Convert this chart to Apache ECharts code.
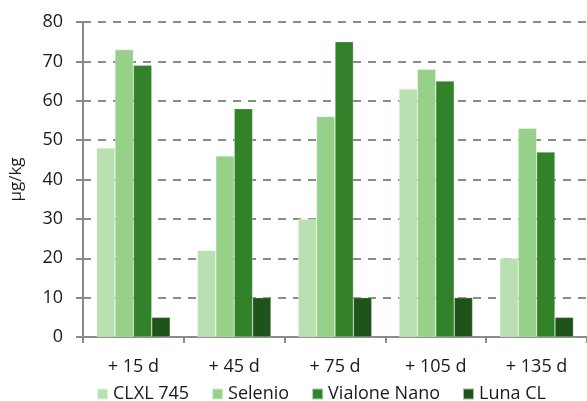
<!DOCTYPE html>
<html><head><meta charset="utf-8">
<script src="https://cdn.jsdelivr.net/npm/echarts@6/dist/echarts.min.js"></script>
<style>html,body{margin:0;padding:0;background:#fff}#c{width:587px;height:401px}</style>
</head><body><div id="c"></div>
<script>
const categories = ['+ 15 d', '+ 45 d', '+ 75 d', '+ 105 d', '+ 135 d'];
const seriesNames = ['CLXL 745', 'Selenio', 'Vialone Nano', 'Luna CL'];
const clxl745 = [48, 22, 30, 63, 20];
const selenio = [73, 46, 56, 68, 53];
const vialoneNano = [69, 58, 75, 65, 47];
const lunaCL = [5, 10, 10, 10, 5];
const yTicks = [0, 10, 20, 30, 40, 50, 60, 70, 80];
const colors = ['#b9e0b0', '#96d089', '#318229', '#1e5419'];
const values = [clxl745, selenio, vialoneNano, lunaCL];
const font = 'Open Sans';
const chart = echarts.init(document.getElementById('c'));
chart.setOption({
  animation: false,
  textStyle: { fontFamily: font },
  grid: { left: 80, right: -5.5, top: 22, bottom: 64, containLabel: false },
  legend: {
    bottom: -7, left: 91,
    itemWidth: 11, itemHeight: 11, itemGap: 22,
    icon: 'rect',
    textStyle: { fontSize: 18, color: '#1a1a1a', fontFamily: font, padding: [0, 0, 0, 0] },
    data: seriesNames
  },
  xAxis: {
    type: 'category', data: categories,
    axisLine: { lineStyle: { color: '#8a8a8a', width: 2 } },
    axisTick: { show: true, length: 6, lineStyle: { color: '#8a8a8a', width: 2 } },
    axisLabel: { fontSize: 18, color: '#1a1a1a', margin: 21, fontFamily: font }
  },
  yAxis: {
    type: 'value', min: yTicks[0], max: yTicks[yTicks.length - 1], interval: 10,
    name: 'µg/kg', nameLocation: 'middle', nameGap: 58, nameRotate: 90,
    nameTextStyle: { fontSize: 17, color: '#1a1a1a', fontFamily: font },
    axisLine: { show: true, lineStyle: { color: '#8a8a8a', width: 2 } },
    axisTick: { show: true, length: 7, lineStyle: { color: '#8a8a8a', width: 2 } },
    axisLabel: { fontSize: 18, color: '#1a1a1a', margin: 20, fontFamily: font },
    splitLine: { lineStyle: { color: '#8a8a8a', width: 2, type: [8, 7] } }
  },
  series: values.map((v, i) => ({
    name: seriesNames[i], type: 'bar', data: v,
    barGap: '0%', barCategoryGap: '27%',
    itemStyle: { color: colors[i], borderColor: 'rgba(255,255,255,0.6)', borderWidth: 0.5 }
  }))
});
</script></body></html>
